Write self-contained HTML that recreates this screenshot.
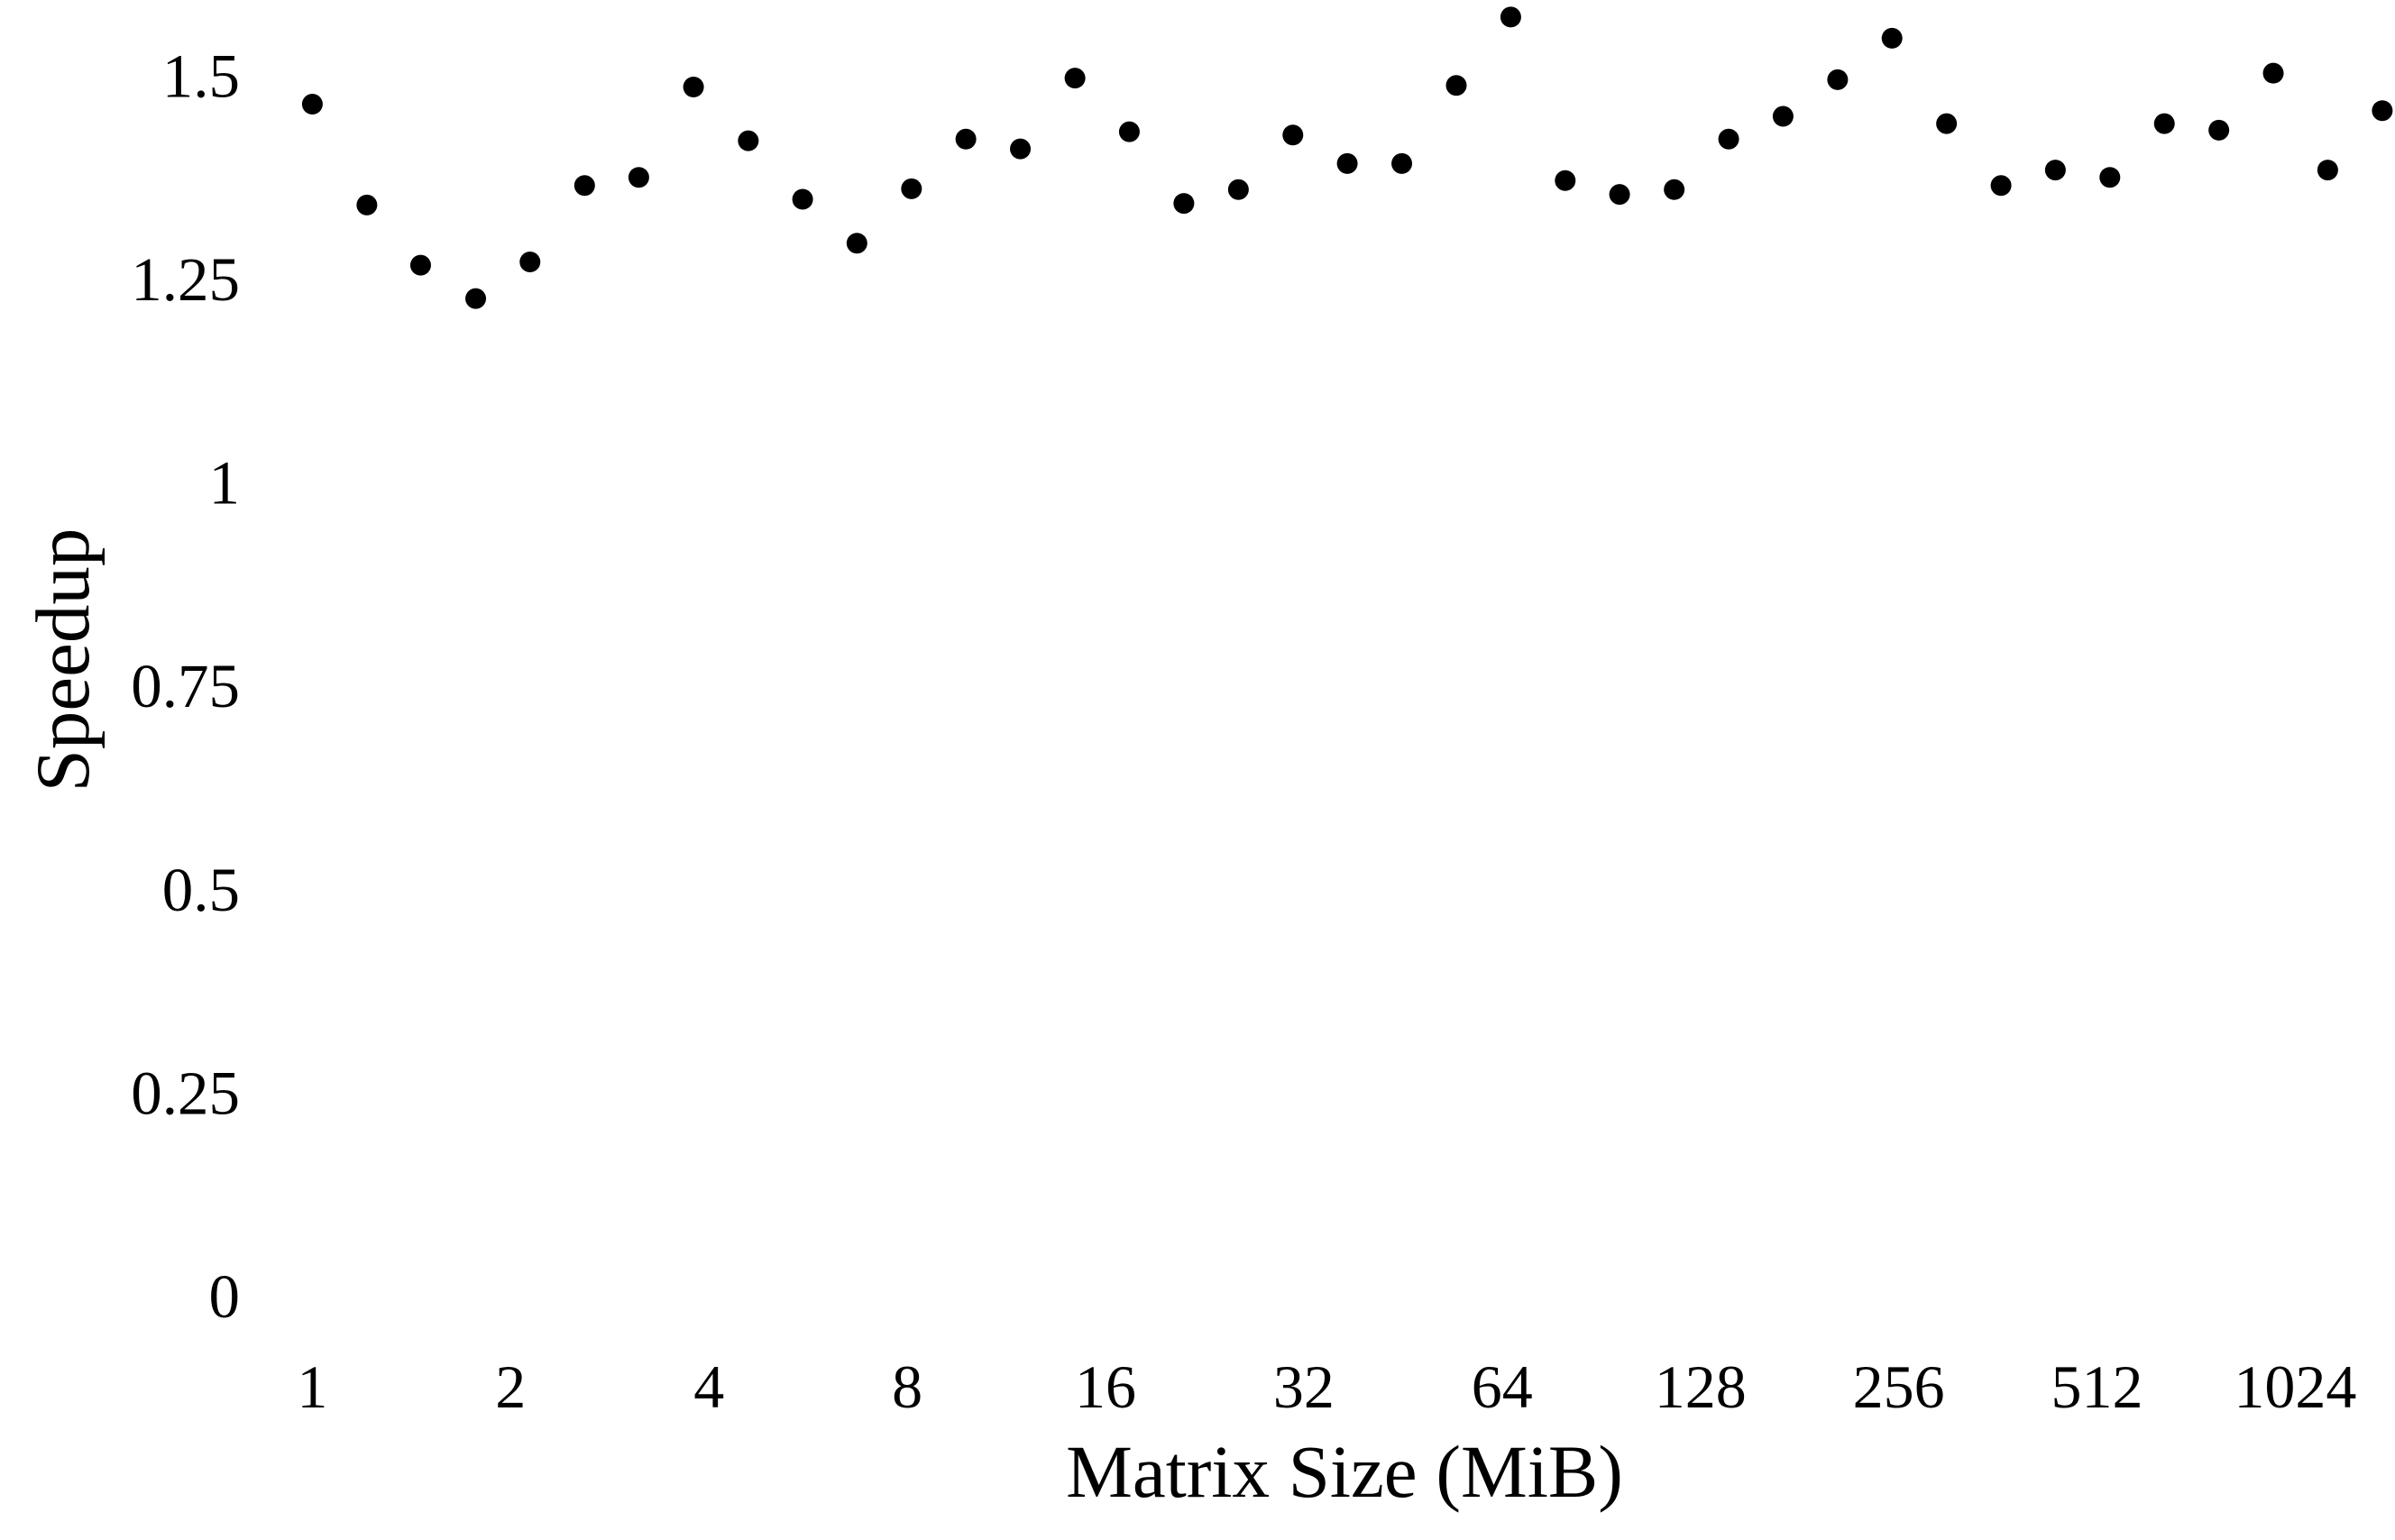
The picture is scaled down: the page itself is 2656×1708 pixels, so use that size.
<!DOCTYPE html>
<html><head><meta charset="utf-8"><style>
html,body{margin:0;padding:0;background:#fff;}
svg{display:block;font-family:"Liberation Serif",serif;}
</style></head><body>
<svg id="chart" width="2656" height="1708" viewBox="0 0 2656 1708" xmlns="http://www.w3.org/2000/svg">
<g id="yticks"></g>
<g id="xticks"></g>
<g id="points"></g>
<text x="1491" y="1660" font-size="83" text-anchor="middle">Matrix Size (MiB)</text>
<text transform="translate(98,732) rotate(-90)" font-size="85" text-anchor="middle">Speedup</text>
</svg>
<script>
const sizes = [1,1.21,1.46,1.77,2.14,2.59,3.13,3.79,4.59,5.55,6.71,8.12,9.82,11.88,14.38,17.39,21.04,25.46,30.8,37.25,45.07,54.53,65.97,79.8,96.5,116.8,141.3,170.9,206.8,250.1,302.6,366.1,442.7,535.6,648,784,948.3,1147,1388];
const speedups = [1.470,1.346,1.272,1.231,1.276,1.370,1.380,1.491,1.425,1.353,1.299,1.366,1.427,1.415,1.502,1.436,1.348,1.365,1.432,1.397,1.397,1.493,1.577,1.376,1.359,1.365,1.427,1.455,1.500,1.551,1.446,1.370,1.389,1.380,1.446,1.438,1.508,1.389,1.462];
const yTicks = [0,0.25,0.5,0.75,1,1.25,1.5];
const yTickLabels = ["0","0.25","0.5","0.75","1","1.25","1.5"];
const xTicks = [1,2,4,8,16,32,64,128,256,512,1024];
const xTickLabels = ["1","2","4","8","16","32","64","128","256","512","1024"];

const NS="http://www.w3.org/2000/svg";
function xScale(v){return 346.4 + Math.log2(v)*219.9;}
function yScale(v){return 1442 - v*902.4;}

const yg=document.getElementById('yticks');
yTicks.forEach((t,i)=>{
  const e=document.createElementNS(NS,'text');
  
  
  e.setAttribute('x',266);e.setAttribute('y',yScale(t)+19);
  e.setAttribute('font-size','69');e.setAttribute('text-anchor','end');
  e.textContent=yTickLabels[i];yg.appendChild(e);
});
const xg=document.getElementById('xticks');
xTicks.forEach((t,i)=>{
  const e=document.createElementNS(NS,'text');
  
  
  e.setAttribute('x',xScale(t));e.setAttribute('y',1561);
  e.setAttribute('font-size','68');e.setAttribute('text-anchor','middle');
  e.textContent=xTickLabels[i];xg.appendChild(e);
});
const pg=document.getElementById('points');
sizes.forEach((s,i)=>{
  const c=document.createElementNS(NS,'circle');
  
  
  c.setAttribute('cx',xScale(s));c.setAttribute('cy',yScale(speedups[i]));
  c.setAttribute('r',11.5);c.setAttribute('fill','#000');
  pg.appendChild(c);
});
</script>
</body></html>
